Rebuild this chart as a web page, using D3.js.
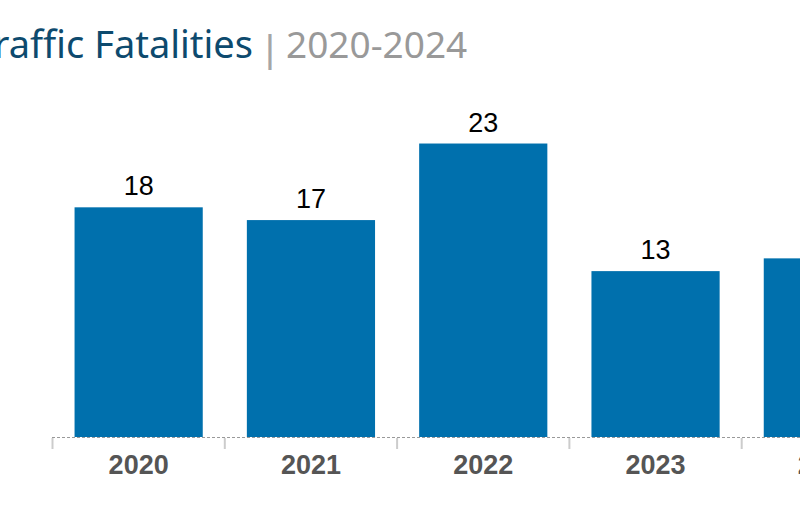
<!DOCTYPE html>
<html>
<head>
<meta charset="utf-8">
<script src="https://cdn.jsdelivr.net/npm/d3@7"></script>
<style>
  body { margin: 0; background: #fff; overflow: hidden; }
</style>
</head>
<body>
<div id="chart"></div>
<script>
const years = ["2020", "2021", "2022", "2023", "2024"];
const fatalities = [18, 17, 23, 13, 14];
const titleMain = "Traffic Fatalities";
const titleRange = "2020-2024";

const width = 800;
const height = 506;
const baseline = 437;

const svg = d3.select("#chart")
    .append("svg")
    .attr("width", width)
    .attr("height", height);

// Title (the left part runs off the frame, as in the original)
svg.append("text")
    .attr("x", 253)
    .attr("y", 58)
    .attr("text-anchor", "end")
    .style("font-family", "'Noto Sans', sans-serif")
    .style("font-size", "38px")
    .style("fill", "#0d4a6e")
    .text(titleMain);

svg.append("text")
    .attr("x", 270)
    .attr("y", 62)
    .attr("text-anchor", "middle")
    .style("font-family", "'Liberation Sans', sans-serif")
    .style("font-size", "38px")
    .style("fill", "#a6a6a6")
    .text("|");

svg.append("text")
    .attr("x", 286)
    .attr("y", 58)
    .style("font-family", "'Noto Sans', sans-serif")
    .style("font-size", "37px")
    .style("fill", "#999")
    .text(titleRange);

const x = d3.scaleBand()
    .domain(years)
    .range([52.5, 52.5 + 172.3 * years.length])
    .paddingInner(0.256)
    .paddingOuter(0.128);

const y = d3.scaleLinear()
    .domain([0, 1])
    .range([baseline, baseline - 12.76]);

// Bars
svg.selectAll(".bar")
    .data(years)
    .enter()
    .append("rect")
    .attr("class", "bar")
    .attr("x", d => x(d))
    .attr("width", x.bandwidth())
    .attr("y", (d, i) => y(fatalities[i]))
    .attr("height", (d, i) => baseline - y(fatalities[i]))
    .attr("fill", "#0070ad");

// Value labels
svg.selectAll(".value")
    .data(years)
    .enter()
    .append("text")
    .attr("class", "value")
    .attr("x", d => x(d) + x.bandwidth() / 2)
    .attr("y", (d, i) => y(fatalities[i]) - 12)
    .attr("text-anchor", "middle")
    .style("font-family", "Arial, 'Liberation Sans', sans-serif")
    .style("font-size", "27px")
    .style("fill", "#000")
    .text((d, i) => fatalities[i]);

// Dashed baseline
svg.append("line")
    .attr("x1", 52)
    .attr("x2", width)
    .attr("y1", baseline + 0.5)
    .attr("y2", baseline + 0.5)
    .attr("stroke", "#999")
    .attr("stroke-width", 1)
    .attr("stroke-dasharray", "3,2");

// Band separators
svg.selectAll(".sep")
    .data(years)
    .enter()
    .append("line")
    .attr("class", "sep")
    .attr("x1", d => x(d) - x.step() * x.paddingOuter())
    .attr("x2", d => x(d) - x.step() * x.paddingOuter())
    .attr("y1", baseline + 1)
    .attr("y2", baseline + 12)
    .attr("stroke", "#ccc")
    .attr("stroke-width", 2);

// Year labels
svg.selectAll(".year")
    .data(years)
    .enter()
    .append("text")
    .attr("class", "year")
    .attr("x", d => x(d) + x.bandwidth() / 2)
    .attr("y", 474)
    .attr("text-anchor", "middle")
    .style("font-family", "Arial, 'Liberation Sans', sans-serif")
    .style("font-size", "27px")
    .style("font-weight", "bold")
    .style("fill", "#555")
    .text(d => d);
</script>
</body>
</html>
